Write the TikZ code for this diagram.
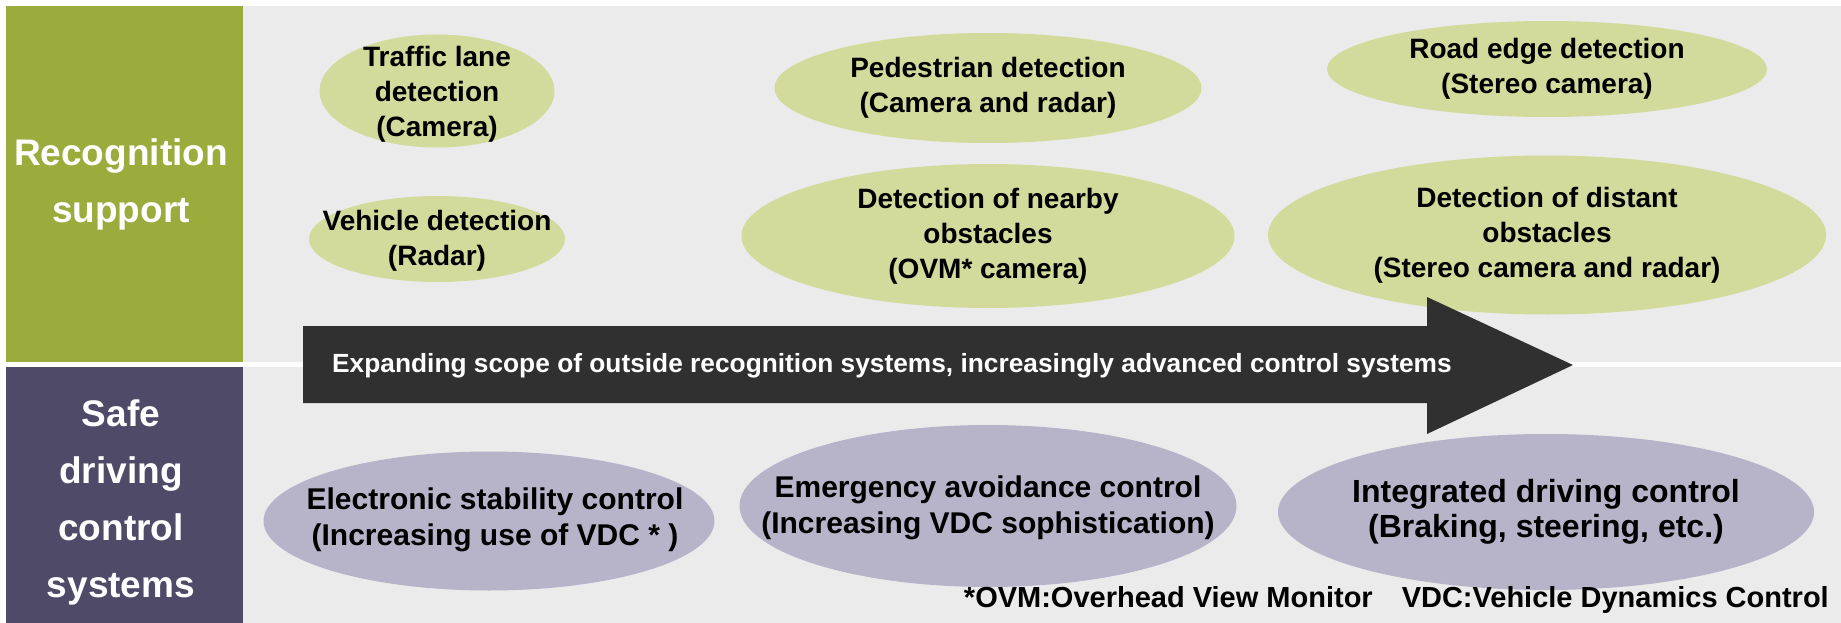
\documentclass[tikz,border=0pt]{standalone}
\usepackage{fontspec}
\setmainfont{Liberation Sans}
\usetikzlibrary{shapes.geometric}

\begin{document}
\begin{tikzpicture}[x=1pt, y=-1pt, line join=round, line cap=round,
		bubble/.style={ellipse, inner sep=0pt, draw=none},
		recog/.style={bubble, fill=leafgreen},
		safety/.style={bubble, fill=lilac},
		caption/.style={align=center, inner sep=0pt, font=\bfseries\fontsize{28}{35}\selectfont},
		bigcaption/.style={caption, font=\bfseries\fontsize{30}{36}\selectfont},
		panel/.style={align=center, inner sep=0pt, text=white, font=\bfseries\fontsize{37}{57}\selectfont}]
			\definecolor{panelgreen}{HTML}{9BAB3C}
			\definecolor{panelpurple}{HTML}{4F4A68}
			\definecolor{bggray}{HTML}{EBEBEB}
			\definecolor{leafgreen}{HTML}{D2DB9B}
			\definecolor{lilac}{HTML}{B7B4CA}
			\definecolor{arrowgray}{HTML}{303030}
			\def\edge{243}
			\def\split{362}
			\useasboundingbox (0,0) rectangle (1841,623);
			% background bands
			\fill[bggray] (\edge,6) rectangle (1841,\split);
			\fill[bggray] (\edge,\split+5) rectangle (1841,623);
			\fill[panelgreen] (6,6) rectangle (\edge,\split);
			\fill[panelpurple] (6,\split+5) rectangle (\edge,623);
			\node[panel] (recogtitle) at (121,184) {Recognition\\support};
			\node[panel] (safetitle) at (121,502) {Safe\\driving\\control\\systems};
			% recognition support
			\node[recog, minimum width=235, minimum height=113] (lane) at (437,91) {};
			\node[recog, minimum width=256, minimum height=86] (vehicle) at (437,239) {};
			\node[recog, minimum width=427, minimum height=110] (pedestrian) at (988,88) {};
			\node[recog, minimum width=493, minimum height=144] (nearby) at (988,236) {};
			\node[recog, minimum width=440, minimum height=96] (roadedge) at (1547,69) {};
			\node[recog, minimum width=558, minimum height=159] (distant) at (1547,235) {};
			\node[caption] at (437,94) {Traffic lane\\detection\\(Camera)};
			\node[caption] at (437,241) {Vehicle detection\\(Radar)};
			\node[caption] at (pedestrian) {Pedestrian detection\\(Camera and radar)};
			\node[caption] at (nearby) {Detection of nearby\\obstacles\\(OVM* camera)};
			\node[caption] at (roadedge) {Road edge detection\\(Stereo camera)};
			\node[caption] at (distant) {Detection of distant\\obstacles\\(Stereo camera and radar)};
			% arrow
			\coordinate (tail) at (303,365);
			\coordinate (tip) at (1573,365);
			\fill[arrowgray] (tail) ++(0,-39) -- (1427,326) -- (1427,297) -- (tip) -- (1427,434) -- (1427,403) -- (303,403) -- cycle;
			\node[anchor=west, inner sep=0pt, text=white, font=\bfseries\fontsize{26.3}{30}\selectfont] (scope) at (332,366)
				{Expanding scope of outside recognition systems, increasingly advanced control systems};
			% safe driving control
			\node[safety, minimum width=451, minimum height=139] (stability) at (489,521) {};
			\node[safety, minimum width=497, minimum height=162] (avoidance) at (988,506) {};
			\node[safety, minimum width=536, minimum height=156] (integrated) at (1546,512) {};
			\node[bigcaption] at (495,520) {Electronic stability control\\(Increasing use of VDC * )};
			\node[bigcaption] at (988,508) {Emergency avoidance control\\(Increasing VDC sophistication)};
			\node[bigcaption, font=\bfseries\fontsize{32}{35}\selectfont] at (integrated) {Integrated driving control\\(Braking, steering, etc.)};
			\node[anchor=east, inner sep=0pt, font=\bfseries\fontsize{29}{30}\selectfont] (note) at (1829,600)
				{*OVM:Overhead View Monitor\quad VDC:Vehicle Dynamics Control};
	\end{tikzpicture}
\end{document}
